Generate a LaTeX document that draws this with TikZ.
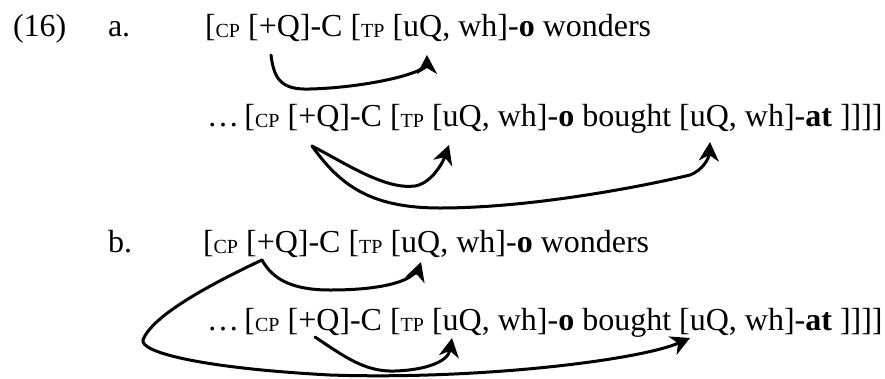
\documentclass[tikz,border=0pt]{standalone}
\usepackage{fontspec}
\setmainfont{Liberation Serif}
\usetikzlibrary{arrows.meta}
\newcommand\smallsub[1]{\raisebox{-1pt}{\fontsize{20}{20}\selectfont #1}}
\begin{document}
\begin{tikzpicture}[x=1pt,y=-1pt,
  txt/.style={anchor=base west, inner sep=0pt, outer sep=0pt, font=\fontsize{32}{38}\selectfont},
  link/.style={line width=3pt, line cap=round, -{Stealth[length=19pt,width=20pt,inset=6pt]}}]
\useasboundingbox (0,0) rectangle (885,378);
% labels
\node[txt] (ex) at (13,36) {(16)};
\node[txt] (la) at (108,36) {a.};
\node[txt] (lb) at (108,252) {b.};
% lines
\node[txt] (l1) at (205,36) {[\smallsub{CP} [+Q]-C [\smallsub{TP} [uQ, wh]-\textbf{o} wonders};
\node[txt] (l2) at (207,126) {…\hspace{5.5pt}[\smallsub{CP} [+Q]-C [\smallsub{TP} [uQ, wh]-\textbf{o} bought [uQ, wh]-\textbf{at} ]]]]};
\node[txt] (l3) at (203,252) {[\smallsub{CP} [+Q]-C [\smallsub{TP} [uQ, wh]-\textbf{o} wonders};
\node[txt] (l4) at (207,330) {…\hspace{5.5pt}[\smallsub{CP} [+Q]-C [\smallsub{TP} [uQ, wh]-\textbf{o} bought [uQ, wh]-\textbf{at} ]]]]};
% arrow end points
\coordinate (a1s) at (271,55);
\coordinate (a1e) at (427,55);
\coordinate (a2s) at (312,146);
\coordinate (a2e) at (449,145);
\coordinate (a3e) at (710,142);
\coordinate (b1s) at (262,260);
\coordinate (b1e) at (421,262);
\coordinate (b3e) at (690,338);
\coordinate (b2s) at (315,337);
\coordinate (b2e) at (452,338);
% (a)
\draw[link] (a1s) .. controls (274,80) and (282,90) .. (310,89)
  .. controls (350,88) and (395,80) .. (415,72)
  .. controls (423,69) and (427,64) .. (a1e);
\draw[link] (a2s) .. controls (345,163) and (385,190) .. (415,186)
  .. controls (432,183) and (443,162) .. (a2e);
\draw[link] (a2s) .. controls (340,185) and (370,208) .. (440,208)
  .. controls (530,208) and (640,187) .. (690,175)
  .. controls (703,170) and (709,158) .. (a3e);
% (b)
\draw[link] (b1s) .. controls (272,278) and (290,290) .. (330,290)
  .. controls (370,290) and (395,285) .. (408,278)
  .. controls (415,274) and (419,268) .. (b1e);
\draw[link] (b1s) .. controls (215,282) and (152,315) .. (143,340)
  .. controls (140,352) and (200,368) .. (330,375)
  .. controls (480,380) and (640,360) .. (b3e);
\draw[link] (b2s) .. controls (345,357) and (365,372) .. (395,371)
  .. controls (425,370) and (448,362) .. (b2e);
\end{tikzpicture}
\end{document}
